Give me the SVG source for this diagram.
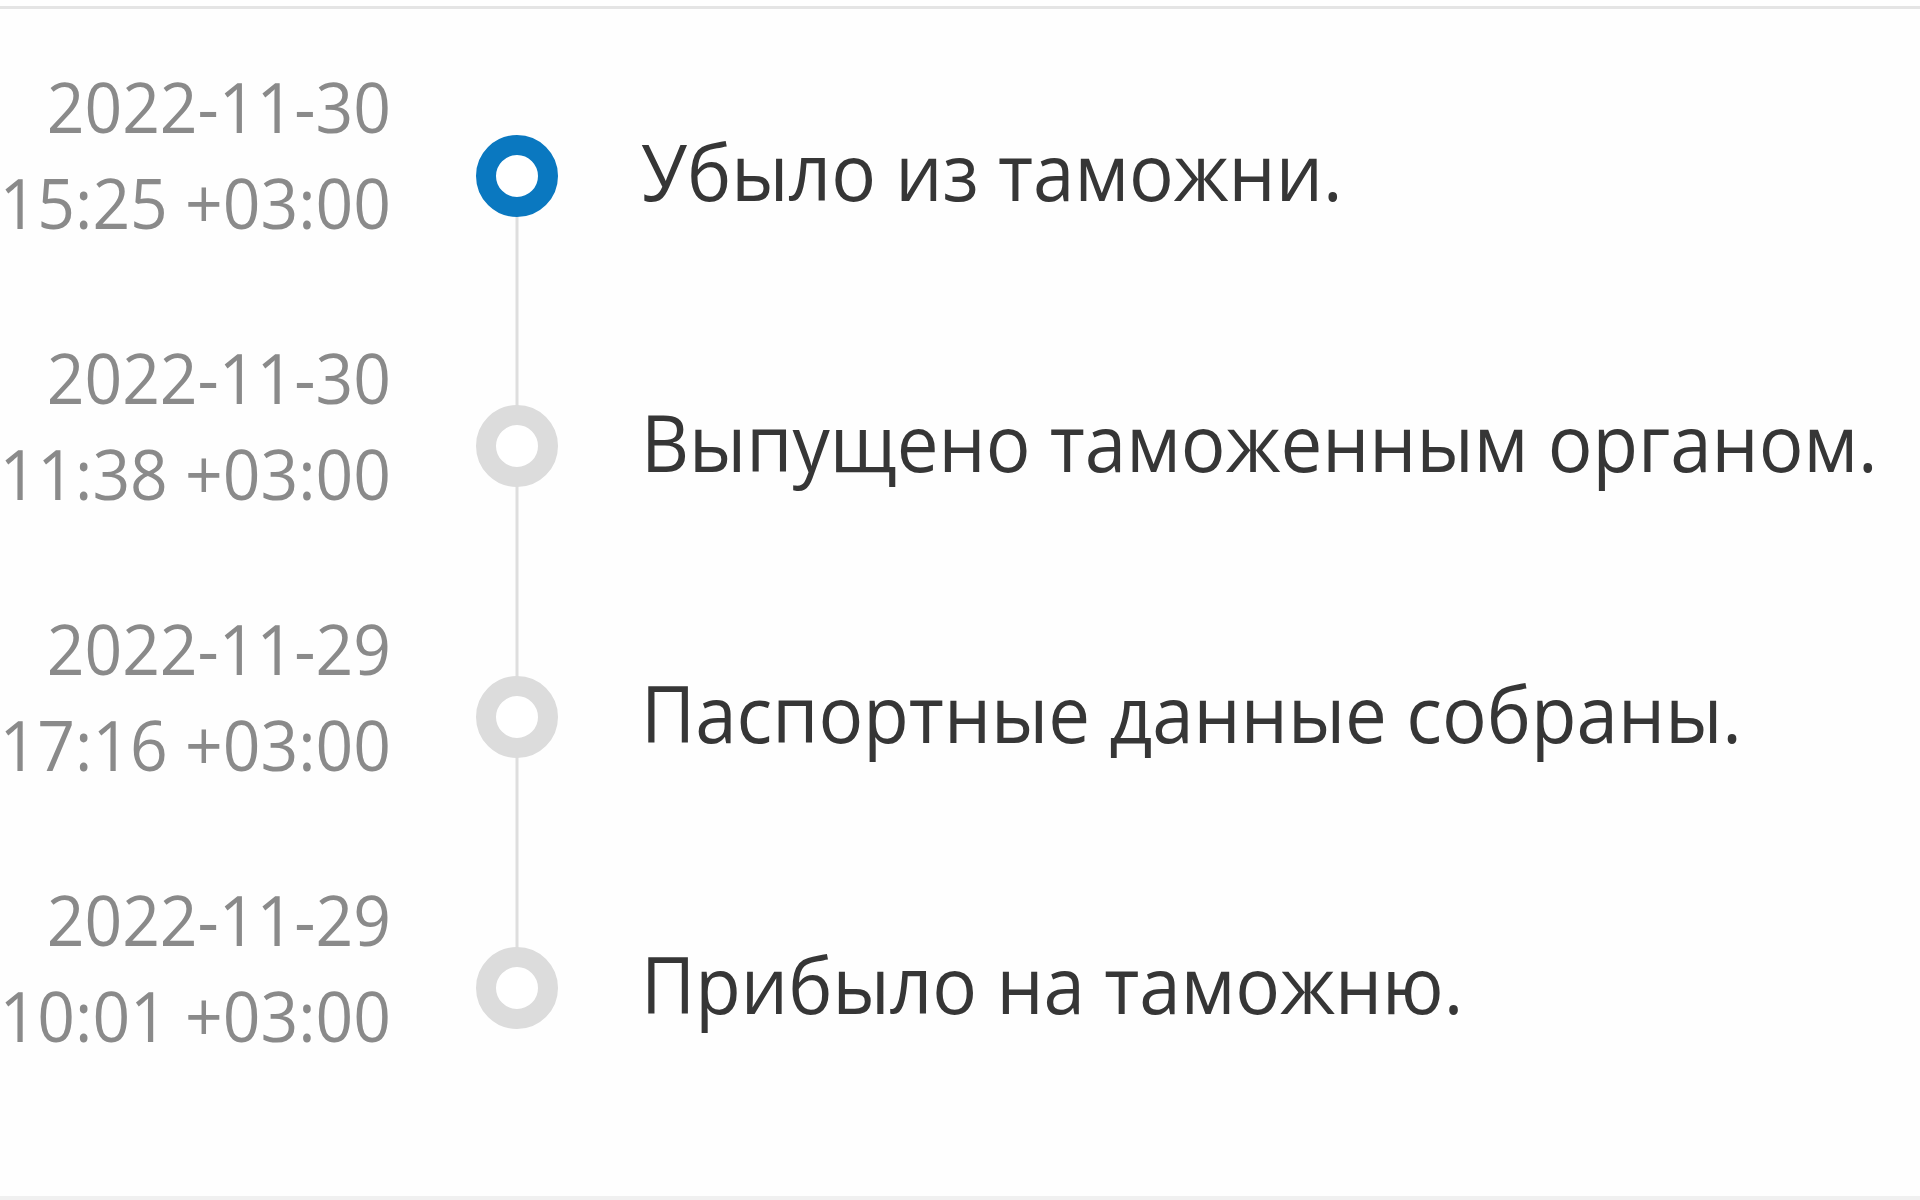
<svg xmlns="http://www.w3.org/2000/svg" width="1920" height="1200" viewBox="0 0 1920 1200">
<style>
.date{font-family:"Open Sans","Liberation Sans",sans-serif;font-size:66px;fill:#8a8a8a;text-anchor:end}
.msg{font-family:"Open Sans","Liberation Sans",sans-serif;font-size:74.5px;fill:#363636}
.ring{fill:#fff;stroke:#dcdcdc;stroke-width:20}
.ring.active{stroke:#0a78c0}
.conn{stroke:#dedede;stroke-width:3}
</style>
<rect x="0" y="0" width="1920" height="1200" fill="#fefefe"/>
<rect x="0" y="6" width="1920" height="3" fill="#e4e4e4"/>
<rect x="0" y="1196" width="1920" height="4" fill="#f0f0f0"/>
<g id="connectors">
<line class="conn" x1="517" y1="176" x2="517" y2="988"/>
</g>
<g id="event1">
<circle class="ring active" cx="517" cy="176" r="31"/>
<text class="date" transform="translate(391,133) scale(1,1.06)">2022-11-30</text>
<text class="date" transform="translate(391,229) scale(1,1.06)">15:25 +03:00</text>
<text class="msg" transform="translate(641,201) scale(1,1.06)">Убыло из таможни.</text>
</g>
<g id="event2">
<circle class="ring" cx="517" cy="446" r="31"/>
<text class="date" transform="translate(391,404) scale(1,1.06)">2022-11-30</text>
<text class="date" transform="translate(391,500) scale(1,1.06)">11:38 +03:00</text>
<text class="msg" transform="translate(641,472) scale(1,1.06)">Выпущено таможенным органом.</text>
</g>
<g id="event3">
<circle class="ring" cx="517" cy="717" r="31"/>
<text class="date" transform="translate(391,675) scale(1,1.06)">2022-11-29</text>
<text class="date" transform="translate(391,771) scale(1,1.06)">17:16 +03:00</text>
<text class="msg" transform="translate(641,743) scale(1,1.06)">Паспортные данные собраны.</text>
</g>
<g id="event4">
<circle class="ring" cx="517" cy="988" r="31"/>
<text class="date" transform="translate(391,946) scale(1,1.06)">2022-11-29</text>
<text class="date" transform="translate(391,1042) scale(1,1.06)">10:01 +03:00</text>
<text class="msg" transform="translate(641,1014) scale(1,1.06)">Прибыло на таможню.</text>
</g>
</svg>
